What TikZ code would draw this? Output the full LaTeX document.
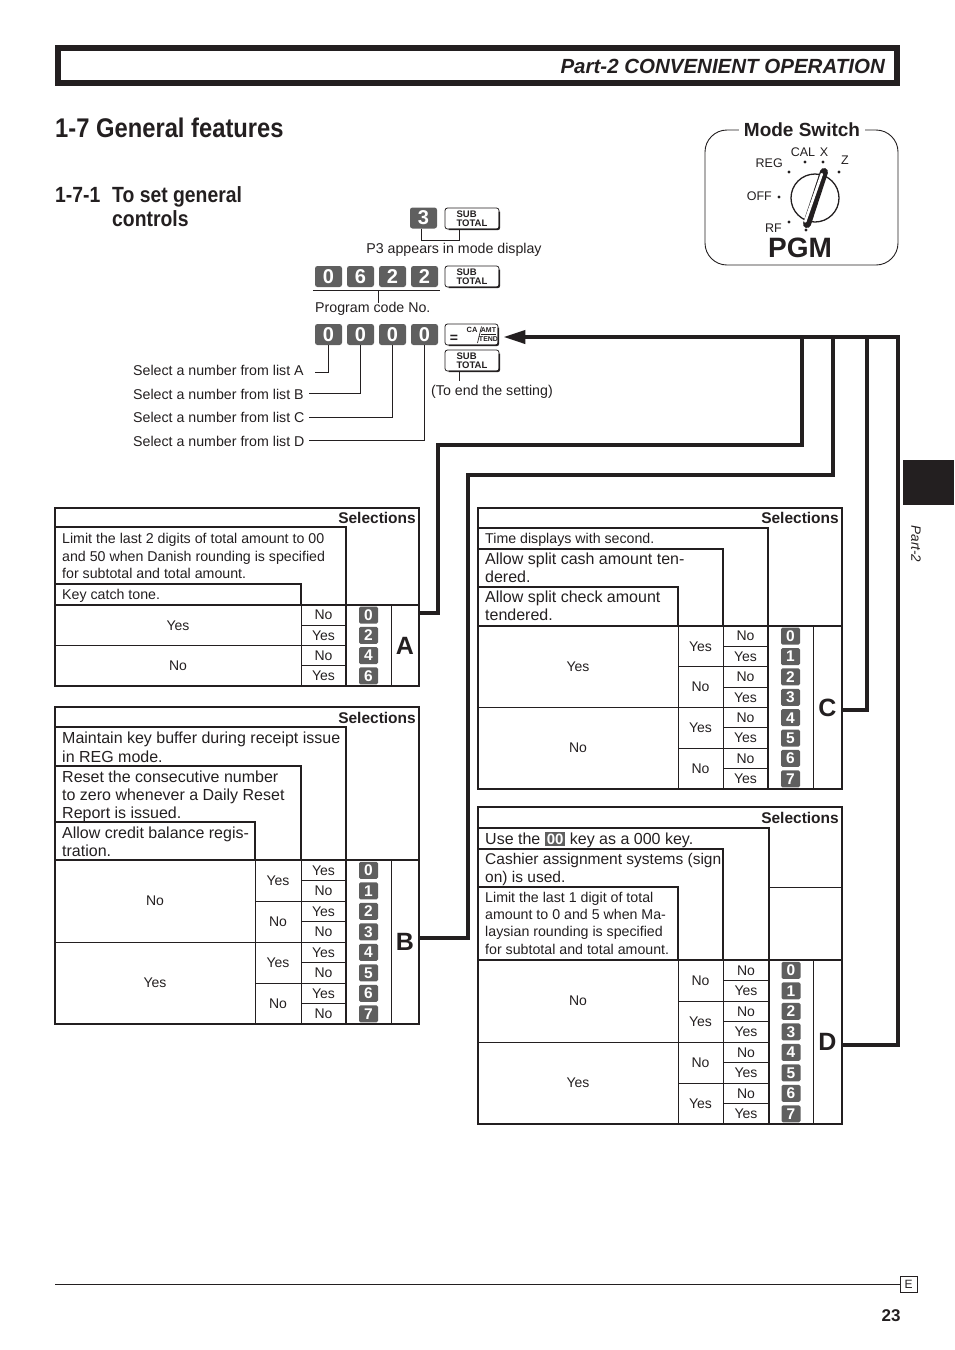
\documentclass[tikz,border=0pt]{standalone}
\usepackage{fontspec}
\setmainfont{Liberation Sans}
\newfontfamily\condfont[FakeStretch=0.88]{Liberation Sans}
\usetikzlibrary{arrows.meta}
\definecolor{keygray}{RGB}{95,95,95}
\definecolor{ink}{RGB}{35,31,32}
\newcommand\fs[2]{\fontsize{#1}{#2}\selectfont}
\setlength\fboxsep{2pt}
\begin{document}
\begin{tikzpicture}[x=1pt,y=-1pt,
 every node/.style={inner sep=0pt,text=ink},
 outerln/.style={draw=ink,line width=1.3pt},
 thk/.style={draw=ink,line width=2pt},
 thn/.style={draw=ink,line width=0.9pt},
 conn/.style={draw=ink,line width=4pt},
 bigkey/.style={fill=keygray,rounded corners=2.5pt,minimum width=27pt,minimum height=21pt,text=white,font=\fs{20}{20}\bfseries},
 smkey/.style={fill=keygray,rounded corners=1.5pt,minimum width=19pt,minimum height=17pt,text=white,font=\fs{15.5}{15.5}\bfseries},
 wkey/.style={draw=ink,line width=0.8pt,rounded corners=2.5pt,minimum width=54pt,minimum height=21pt,fill=white},
 wkeytxt/.style={align=left,font=\fs{9.5}{9.5}\bfseries},
 yn/.style={font=\fs{14}{14}},
 sel/.style={anchor=base east,font=\fs{15.5}{16}\bfseries},
 letter/.style={font=\fs{25}{25}\bfseries},
 lbl/.style={font=\fs{14.2}{17}},
 dA/.style={anchor=base west,font=\fs{14.2}{17}},
 dB/.style={anchor=base west,font=\fs{16}{19}},
 swl/.style={font=\fs{12.5}{13}}
]
\useasboundingbox (0,0) rectangle (954,1350);

% header
\draw[draw=ink,line width=6pt] (58,48) rectangle (897,83);
\node[anchor=base east,font=\fs{20.5}{21}\bfseries\itshape] (hdr) at (885,73) {Part-2 CONVENIENT OPERATION};

% titles
\node[anchor=base west,font=\condfont\fs{27}{27}\bfseries] (t1) at (55,137) {1-7 General features};
\node[anchor=base west,font=\condfont\fs{22}{24}\bfseries] (t2n) at (55,202) {1-7-1};
\node[anchor=base west,font=\condfont\fs{22}{24}\bfseries] (t2a) at (112,202) {To set general};
\node[anchor=base west,font=\condfont\fs{22}{24}\bfseries] (t2b) at (112,226) {controls};

% mode switch
\draw[ink,line width=0.9pt,rounded corners=22pt] (705,130) rectangle (898,265);
\node[fill=white,inner xsep=5pt,inner ysep=2pt,font=\fs{19}{19}\bfseries] (ms) at (802,130) {Mode Switch};
\draw[ink,line width=1.3pt] (815,198) circle[radius=24pt];
\draw[ink,line width=8pt,line cap=round] (824,172)--(807,224);
\draw[white,line width=2.6pt,line cap=round] (821.8,174)--(805.2,221.5);
\foreach \p in {(789,172),(805,162),(823,162),(839,172),(779,197),(789,222),(806,230)}
  \fill[ink] \p circle[radius=1.7pt];
\node[swl,anchor=east] (reg) at (783,163) {REG};
\node[swl] (cal) at (803,152) {CAL};
\node[swl] (xx) at (824,152) {X};
\node[swl] (zz) at (845,160) {Z};
\node[swl,anchor=east] (off) at (772,196) {OFF};
\node[swl,anchor=east] (rf) at (782,228) {RF};
\node[font=\fs{28}{28}\bfseries] (pgm) at (800,248) {PGM};

% key row 1
\node[bigkey] (k3) at (423.5,218) {3};
\node[wkey] (st1) at (472,218.5) {};
\node[wkeytxt] at (st1) {SUB\\TOTAL};
\draw[ink,line width=1.6pt,rounded corners=2pt] ([yshift=-4pt]st1.north east) -- (st1.south east) -- ([xshift=4pt]st1.south west);
\draw[thn] ([xshift=-2.5pt]k3.south) |- ([xshift=-13pt,yshift=-11pt]st1.south) -- ([xshift=-13pt]st1.south);
\node[lbl,anchor=base] (p3) at (454,253) {P3 appears in mode display};

% key row 2
\node[bigkey] (r2a) at (328.5,276.5) {0};
\node[bigkey] (r2b) at (360.5,276.5) {6};
\node[bigkey] (r2c) at (392.5,276.5) {2};
\node[bigkey] (r2d) at (424.5,276.5) {2};
\node[wkey] (st2) at (472,276.5) {};
\node[wkeytxt] at (st2) {SUB\\TOTAL};
\draw[ink,line width=1.6pt,rounded corners=2pt] ([yshift=-4pt]st2.north east) -- (st2.south east) -- ([xshift=4pt]st2.south west);
\draw[thn] ([xshift=-2pt,yshift=-3pt]r2a.south west) -- ([xshift=2pt,yshift=-3pt]r2d.south east);
\coordinate (pc1) at (378,290);
\coordinate (pc2) at (378,303);
\draw[thn] (pc1) -- (pc2);
\node[lbl,anchor=base west] (pcn) at (315,312) {Program code No.};

% key row 3
\node[bigkey] (r3a) at (328.5,334.5) {0};
\node[bigkey] (r3b) at (360.5,334.5) {0};
\node[bigkey] (r3c) at (392.5,334.5) {0};
\node[bigkey] (r3d) at (424.5,334.5) {0};
\node[wkey,minimum width=53pt] (ca) at (471.5,334.5) {};
\draw[ink,line width=1.6pt,rounded corners=2pt] ([yshift=-4pt]ca.north east) -- (ca.south east) -- ([xshift=4pt]ca.south west);
\node[font=\fs{14}{14}\bfseries] (eq) at (454,339) {=};
\node[anchor=base,font=\fs{7.5}{8}\bfseries] (cat) at (472,332) {CA};
\node[anchor=base,font=\fs{7}{8}\bfseries] (amt) at (488.5,332) {AMT};
\node[anchor=base,font=\fs{7}{8}\bfseries] (tend) at (488.5,341.5) {TEND};
\draw[ink,line width=0.7pt] (477.5,343) -- (481.5,326.5);
\draw[ink,line width=0.5pt] (481,334) -- (496,334);
\node[wkey] (st3) at (472,360.5) {};
\node[wkeytxt] at (st3) {SUB\\TOTAL};
\draw[ink,line width=1.6pt,rounded corners=2pt] ([yshift=-4pt]st3.north east) -- (st3.south east) -- ([xshift=4pt]st3.south west);
\draw[thn] ([xshift=-13pt]st3.south) -- ++(0,10);
\node[lbl,anchor=base west] (tend2) at (431,395) {(To end the setting)};

% select lines
\node[lbl,anchor=base west] (sA) at (133,375) {Select a number from list A};
\node[lbl,anchor=base west] (sB) at (133,399) {Select a number from list B};
\node[lbl,anchor=base west] (sC) at (133,422) {Select a number from list C};
\node[lbl,anchor=base west] (sD) at (133,446) {Select a number from list D};
\coordinate (eA) at (315,372);
\coordinate (eB) at (309,393);
\coordinate (eC) at (309,417);
\coordinate (eD) at (309,440);
\draw[thn] (r3a.south) |- (eA);
\draw[thn] (r3b.south) |- (eB);
\draw[thn] (r3c.south) |- (eC);
\draw[thn] (r3d.south) |- (eD);

% ---------------- Table A
\draw[outerln] (55,508) rectangle (419,686);
\node[sel] (selA) at (416,523) {Selections};
\draw[thk] (55,527) -| (346,686);
\draw[thk] (55,584) -| (301,605);
\draw[thk] (55,605) -- (419,605);
\draw[thn] (301,605) -- (301,686);
\draw[thn] (391,605) -- (391,686);
\foreach \i in {1,3} \draw[thn] (301,{605+20.25*\i}) -- (346,{605+20.25*\i});
\draw[thn] (55,645.5) -- (346,645.5);
\node[dA] (a1) at (62,543) {Limit the last 2 digits of total amount to 00};
\node[dA] (a2) at (62,561) {and 50 when Danish rounding is specified};
\node[dA] (a3) at (62,578) {for subtotal and total amount.};
\node[dA] (a4) at (62,599) {Key catch tone.};
\node[yn] (ay) at (178,625.25) {Yes};
\node[yn] (an) at (178,665.75) {No};
\foreach \t [count=\i from 0] in {No,Yes,No,Yes} \node[yn] (ac\i) at (323.5,{615.1+20.25*\i}) {\t};
\foreach \t [count=\i from 0] in {0,2,4,6} \node[smkey] (ak\i) at (368.5,{615.1+20.25*\i}) {\t};
\node[letter] (LA) at (405,645.5) {A};
\coordinate (Aout) at (419,613);

% ---------------- Table B
\draw[outerln] (55,707) rectangle (419,1024);
\node[sel] (selB) at (416,723) {Selections};
\draw[thk] (55,727) -| (346,1024);
\draw[thk] (55,766) -| (301,860);
\draw[thk] (55,822) -| (255,860);
\draw[thk] (55,860) -- (419,860);
\draw[thn] (255,860) -- (255,1024);
\draw[thn] (301,860) -- (301,1024);
\draw[thn] (391,860) -- (391,1024);
\foreach \i in {1,3,5,7} \draw[thn] (301,{860+20.5*\i}) -- (346,{860+20.5*\i});
\foreach \i in {2,6} \draw[thn] (255,{860+20.5*\i}) -- (346,{860+20.5*\i});
\draw[thn] (55,942) -- (346,942);
\node[dB] (b1) at (62,743) {Maintain key buffer during receipt issue};
\node[dB] (b2) at (62,762) {in REG mode.};
\node[dB] (b3) at (62,782) {Reset the consecutive number};
\node[dB] (b4) at (62,800) {to zero whenever a Daily Reset};
\node[dB] (b5) at (62,818) {Report is issued.};
\node[dB] (b6) at (62,838) {Allow credit balance regis-};
\node[dB] (b7) at (62,856) {tration.};
\node[yn] (bn) at (155,901) {No};
\node[yn] (by) at (155,983) {Yes};
\foreach \t [count=\i from 0] in {Yes,No,Yes,No} \node[yn] (bb\i) at (278,{880.5+41*\i}) {\t};
\foreach \t [count=\i from 0] in {Yes,No,Yes,No,Yes,No,Yes,No} \node[yn] (bc\i) at (323.5,{870.25+20.5*\i}) {\t};
\foreach \i in {0,...,7} \node[smkey] (bk\i) at (368.5,{870.25+20.5*\i}) {\i};
\node[letter] (LB) at (405,942) {B};
\coordinate (Bout) at (419,938);

% ---------------- Table C
\draw[outerln] (478,508) rectangle (842,789);
\node[sel] (selC) at (839,523) {Selections};
\draw[thk] (478,528) -| (768,789);
\draw[thk] (478,549) -| (723,626);
\draw[thk] (478,587) -| (678,626);
\draw[thk] (478,626) -- (842,626);
\draw[thn] (678,626) -- (678,789);
\draw[thn] (723,626) -- (723,789);
\draw[thn] (813,626) -- (813,789);
\foreach \i in {1,3,5,7} \draw[thn] (723,{626+20.375*\i}) -- (768,{626+20.375*\i});
\foreach \i in {2,6} \draw[thn] (678,{626+20.375*\i}) -- (768,{626+20.375*\i});
\draw[thn] (478,707.5) -- (768,707.5);
\node[dA] (c1) at (485,543) {Time displays with second.};
\node[dB] (c2) at (485,564) {Allow split cash amount ten-};
\node[dB] (c3) at (485,582) {dered.};
\node[dB] (c4) at (485,602) {Allow split check amount};
\node[dB] (c5) at (485,620) {tendered.};
\node[yn] (cy) at (578,667) {Yes};
\node[yn] (cn) at (578,748) {No};
\foreach \t [count=\i from 0] in {Yes,No,Yes,No} \node[yn] (cb\i) at (700.5,{646.4+40.75*\i}) {\t};
\foreach \t [count=\i from 0] in {No,Yes,No,Yes,No,Yes,No,Yes} \node[yn] (cc\i) at (745.5,{636.2+20.375*\i}) {\t};
\foreach \i in {0,...,7} \node[smkey] (ck\i) at (790.5,{636.2+20.375*\i}) {\i};
\node[letter] (LC) at (827.5,707.5) {C};
\coordinate (Cout) at (842,710);

% ---------------- Table D
\draw[outerln] (478,807) rectangle (842,1124);
\node[sel] (selD) at (839,823) {Selections};
\draw[thk] (478,828) -| (769,1124);
\draw[thk] (478,849) -| (723,960);
\draw[thk] (478,887) -| (678,960);
\draw[thn] (769,887) -- (842,887);
\draw[thk] (478,960) -- (842,960);
\draw[thn] (678,960) -- (678,1124);
\draw[thn] (723,960) -- (723,1124);
\draw[thn] (813,960) -- (813,1124);
\foreach \i in {1,3,5,7} \draw[thn] (723,{960+20.5*\i}) -- (769,{960+20.5*\i});
\foreach \i in {2,6} \draw[thn] (678,{960+20.5*\i}) -- (769,{960+20.5*\i});
\draw[thn] (478,1042) -- (769,1042);
\node[dB] (d1) at (485,844) {Use the \colorbox{keygray}{\textcolor{white}{\bfseries\fs{15}{15}00}} key as a 000 key.};
\node[dB,font=\fs{15.5}{18}] (d2) at (485,864) {Cashier assignment systems (sign};
\node[dB,font=\fs{15.5}{18}] (d3) at (485,882) {on) is used.};
\node[dA] (d4) at (485,902) {Limit the last 1 digit of total};
\node[dA] (d5) at (485,919) {amount to 0 and 5 when Ma-};
\node[dA] (d6) at (485,936) {laysian rounding is specified};
\node[dA] (d7) at (485,954) {for subtotal and total amount.};
\node[yn] (dn) at (578,1001) {No};
\node[yn] (dy) at (578,1083) {Yes};
\foreach \t [count=\i from 0] in {No,Yes,No,Yes} \node[yn] (db\i) at (700.5,{980.5+41*\i}) {\t};
\foreach \t [count=\i from 0] in {No,Yes,No,Yes,No,Yes,No,Yes} \node[yn] (dc\i) at (746,{970.25+20.5*\i}) {\t};
\foreach \i in {0,...,7} \node[smkey] (dk\i) at (791,{970.25+20.5*\i}) {\i};
\node[letter] (LD) at (827.5,1042) {D};
\coordinate (Dout) at (842,1045);

% ---------------- connectors
\coordinate (top) at (898,337);
\draw[conn] (Aout) -- (438,613) -- (438,445) -- (802,445) -- (802,337);
\draw[conn] (Bout) -- (468,938) -- (468,475) -- (833,475) -- (833,337);
\draw[conn] (Cout) -- (867,710) -- (867,337);
\draw[conn,-{Triangle[length=22pt,width=13pt]}] (Dout) -- (898,1045) -- (top) -- ([xshift=5pt,yshift=-2.5pt]ca.east);

% side tab
\fill[ink] (903,460) rectangle (954,505);
\node[rotate=-90,font=\fs{13.5}{14}\itshape] (tab) at (916,544) {Part-2};

% footer
\node[draw=ink,line width=0.8pt,minimum width=17pt,minimum height=16pt,font=\fs{12}{12}] (E) at (908.5,1284) {E};
\coordinate (fl) at (55,1284);
\draw[thn] (fl) -- (E.west);
\node[font=\fs{17}{17}\bfseries] (pg) at (891,1316) {23};
\end{tikzpicture}
\end{document}
